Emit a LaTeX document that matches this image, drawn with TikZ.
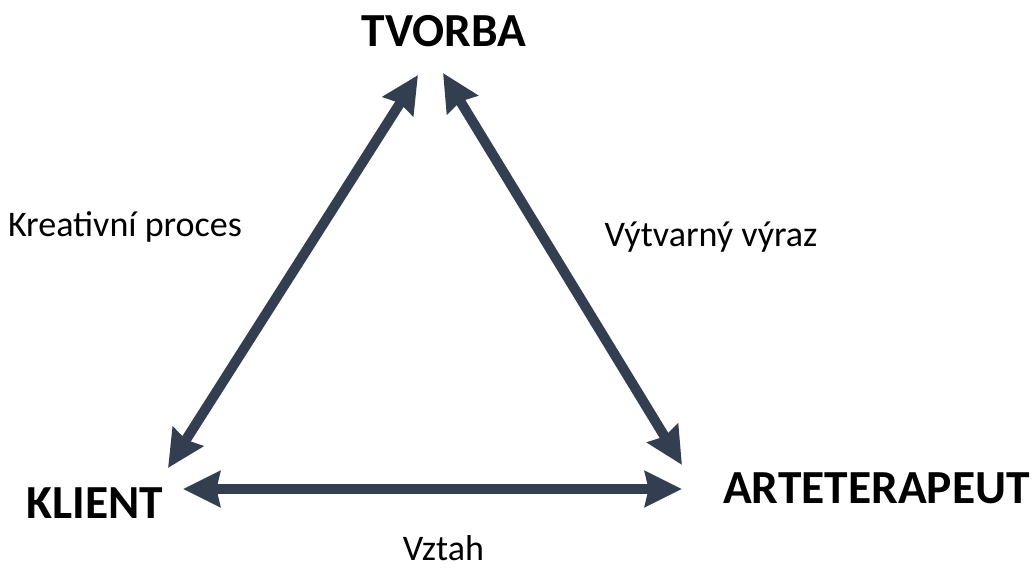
\documentclass[tikz,border=0pt]{standalone}
\usepackage{fontspec}
\setmainfont{Carlito}
\usetikzlibrary{arrows.meta}
\definecolor{slate}{HTML}{333F50}
\tikzset{
    vertex/.style={anchor=base, font=\fontsize{27}{31}\selectfont\bfseries},
    edgelabel/.style={anchor=base, font=\fontsize{20.5}{24}\selectfont},
    link/.style={line width=5.7pt, slate, {Stealth[length=21pt,width=20pt,inset=2pt]}-{Stealth[length=21pt,width=20pt,inset=2pt]}}
}
\begin{document}
\begin{tikzpicture}
    \useasboundingbox (0,0) rectangle (20.7,11.4);
    %% Corners
    \node[vertex] (tvorba) at (8.88,10.46) {TVORBA};
    \node[vertex] (klient) at (1.90,1.04) {KLIENT};
    \node[vertex] (terapeut) at (17.53,1.34) {ARTETERAPEUT};
    %% Arrow ends
    \coordinate (tv-l) at (8.36,9.90);
    \coordinate (tv-r) at (8.86,9.94);
    \coordinate (kl-u) at (3.36,2.04);
    \coordinate (kl-r) at (3.66,1.62);
    \coordinate (at-u) at (13.64,2.10);
    \coordinate (at-l) at (13.64,1.62);
    %% Arrows
    \draw[link] (kl-u) to (tv-l);
    \draw[link] (tv-r) to (at-u);
    \draw[link] (kl-r) to (at-l);
    %% Labels
    \node[edgelabel] (proces) at (2.50,6.66) {Kreativní proces};
    \node[edgelabel] (vyraz) at (14.22,6.46) {Výtvarný výraz};
    \node[edgelabel, text depth=0pt] (vztah) at (8.87,0.20) {Vztah};
\end{tikzpicture}
\end{document}
